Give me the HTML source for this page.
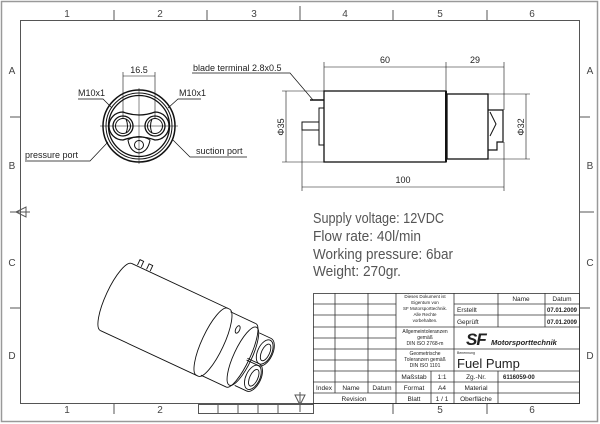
<!DOCTYPE html>
<html><head><meta charset="utf-8"><style>
html,body{margin:0;padding:0;background:#fff;}
svg{display:block;font-family:"Liberation Sans",sans-serif;}
</style></head><body>
<svg width="600" height="424" viewBox="0 0 600 424" xmlns="http://www.w3.org/2000/svg">
<rect x="0" y="0" width="600" height="424" fill="#fff"/>
<rect x="1.5" y="1.5" width="596" height="420" fill="none" stroke="#999" stroke-width="1.5"/>
<rect x="20.5" y="20.5" width="559" height="383" fill="none" stroke="#555" stroke-width="1"/>
<g stroke="#555" stroke-width="1">
<line x1="114" y1="10" x2="114" y2="20"/><line x1="207" y1="10" x2="207" y2="20"/><line x1="300" y1="6" x2="300" y2="20"/><line x1="393" y1="10" x2="393" y2="20"/><line x1="487" y1="10" x2="487" y2="20"/>
<line x1="114" y1="404" x2="114" y2="414"/><line x1="487" y1="404" x2="487" y2="414"/><line x1="393" y1="404" x2="393" y2="414"/>
<line x1="10" y1="117" x2="20" y2="117"/><line x1="10" y1="308" x2="20" y2="308"/><line x1="10" y1="212" x2="30" y2="212"/>
<line x1="580" y1="117" x2="590" y2="117"/><line x1="580" y1="308" x2="590" y2="308"/><line x1="580" y1="212" x2="594" y2="212"/>
<polygon points="16,212 26,207 26,217" fill="none"/>
<line x1="300" y1="392" x2="300" y2="412"/><polygon points="300,405 295,395 305,395" fill="none"/>
</g>
<g stroke="#555" fill="none" stroke-width="1">
<rect x="198.5" y="404.5" width="115" height="9"/>
<line x1="218" y1="404" x2="218" y2="413"/><line x1="238" y1="404" x2="238" y2="413"/><line x1="258" y1="404" x2="258" y2="413"/><line x1="278" y1="404" x2="278" y2="413"/>
</g>
<g font-size="10" fill="#444" text-anchor="middle">
<text x="67" y="17">1</text><text x="160" y="17">2</text><text x="254" y="17">3</text><text x="345" y="17">4</text><text x="440" y="17">5</text><text x="532" y="17">6</text>
<text x="67" y="413">1</text><text x="160" y="413">2</text><text x="440" y="413">5</text><text x="532" y="413">6</text>
<text x="12" y="74">A</text><text x="12" y="169">B</text><text x="12" y="266">C</text><text x="12" y="359">D</text>
<text x="590" y="74">A</text><text x="590" y="169">B</text><text x="590" y="266">C</text><text x="590" y="359">D</text>
</g>

<!-- front view -->
<g stroke="#111" fill="none" stroke-width="1">
<circle cx="139" cy="126" r="36" stroke-width="1.5"/>
<circle cx="139" cy="126" r="33"/>
<circle cx="139" cy="126" r="30.5" stroke-width="1.3"/>
<path d="M123,112 Q139,118 155,112 A14,14 0 1 1 155,140 Q139,134 123,140 A14,14 0 1 1 123,112 Z" stroke-width="1.3"/>
<circle cx="123" cy="126" r="10" stroke-width="1.3"/><circle cx="123" cy="126" r="7.5"/>
<circle cx="155" cy="126" r="10" stroke-width="1.3"/><circle cx="155" cy="126" r="7.5"/>
<path d="M126,119 Q129,126 126,133 M152,119 Q149,126 152,133"/>
<path d="M128,140 Q139,133 150,140 Q148,152 139,153 Q130,152 128,140Z"/>
<circle cx="139" cy="145" r="4.5"/>
<line x1="100" y1="126" x2="178" y2="126" stroke-width="0.5"/>
<line x1="139" y1="88" x2="139" y2="164" stroke-width="0.5"/>
<line x1="123" y1="72" x2="123" y2="118" stroke-width="0.6"/><line x1="155" y1="72" x2="155" y2="118" stroke-width="0.6"/>
<line x1="123" y1="76" x2="155" y2="76" stroke-width="0.6"/>
<polyline points="78,99 103,99 112,108" stroke-width="0.7"/>
<polyline points="201,99 178,99 168,108" stroke-width="0.7"/>
<polyline points="25,161 90,161 108,142" stroke-width="0.7"/>
<polyline points="247,157 190,157 173,140" stroke-width="0.7"/>
<polyline points="192,73 290,73 313,100" stroke-width="0.7"/>
</g>
<g font-size="9" fill="#222">
<text x="139" y="73" text-anchor="middle">16.5</text>
<text x="78" y="96">M10x1</text><text x="179" y="96">M10x1</text>
<text x="25" y="158">pressure port</text><text x="196" y="154">suction port</text>
<text x="193" y="71">blade terminal 2.8x0.5</text>
</g>

<!-- side view -->
<g stroke="#111" fill="none" stroke-width="1">
<rect x="324" y="91" width="122" height="71" stroke-width="1.3"/>
<rect x="447" y="94" width="41" height="65" stroke-width="1.3"/>
<line x1="446" y1="91" x2="446" y2="162" stroke-width="2"/>
<polyline points="488,110 503,110 503,142 497,142 497,150 488,150" stroke-width="1.2"/>
<polyline points="490,112 496,124 490,136"/>
<rect x="319" y="108" width="5" height="37"/>
<rect x="302" y="122" width="17" height="8"/>
<line x1="310" y1="100" x2="324" y2="100" stroke-width="1.5"/>
<g stroke-width="0.6">
<line x1="324" y1="62" x2="324" y2="91"/><line x1="446" y1="62" x2="446" y2="91"/><line x1="504" y1="62" x2="504" y2="110"/>
<line x1="324" y1="67" x2="446" y2="67"/><line x1="446" y1="67" x2="504" y2="67"/>
<line x1="302" y1="130" x2="302" y2="191"/><line x1="504" y1="142" x2="504" y2="191"/>
<line x1="302" y1="187" x2="504" y2="187"/>
<line x1="282" y1="91" x2="324" y2="91"/><line x1="282" y1="162" x2="324" y2="162"/>
<line x1="286" y1="91" x2="286" y2="162"/>
<line x1="488" y1="94" x2="530" y2="94"/><line x1="488" y1="159" x2="530" y2="159"/>
<line x1="526" y1="94" x2="526" y2="159"/>
</g>
</g>
<g font-size="9" fill="#222" text-anchor="middle">
<text x="385" y="63">60</text><text x="475" y="63">29</text><text x="403" y="183">100</text>
<text transform="translate(284,127) rotate(-90)">Φ35</text>
<text transform="translate(524,127) rotate(-90)">Φ32</text>
</g>

<!-- specs -->
<g font-size="14.5" fill="#555">
<text x="313" y="223" textLength="131" lengthAdjust="spacingAndGlyphs">Supply voltage: 12VDC</text>
<text x="313" y="241" textLength="108" lengthAdjust="spacingAndGlyphs">Flow rate: 40l/min</text>
<text x="313" y="259" textLength="140" lengthAdjust="spacingAndGlyphs">Working pressure: 6bar</text>
<text x="313" y="276" textLength="88" lengthAdjust="spacingAndGlyphs">Weight: 270gr.</text>
</g>

<!-- isometric -->
<g transform="translate(116,297) rotate(25)" stroke="#111" fill="none" stroke-width="0.9">
<path d="M0,-37 L108,-37 M0,37 L108,37"/>
<path d="M0,-37 A10,37 0 0 0 0,37"/>
<path d="M108,-37 A10,37 0 0 1 108,37" />
<path d="M106,-37 A10,37 0 0 0 106,37"/>
<path d="M110,-35 L138,-35 M110,35 L138,35"/>
<path d="M138,-35 A9,35 0 0 1 138,35"/>
<path d="M140,-32 A9,32 0 0 1 140,32"/>
<path d="M140,-32 A9,32 0 0 0 140,32"/>
<ellipse cx="124" cy="-22" rx="2" ry="4"/>
<path d="M6,-38 L6,-44 L10,-44 L10,-38 M16,-38 L16,-44 L20,-44 L20,-38"/>
<path d="M145,-28 L158,-28 A8,15 0 0 1 158,2 L145,2 M145,0 L158,0 A8,15 0 0 1 158,30 L145,30"/>
<ellipse cx="158" cy="-13" rx="7" ry="13"/><ellipse cx="159" cy="-13" rx="4" ry="9"/>
<ellipse cx="158" cy="15" rx="7" ry="13"/><ellipse cx="159" cy="15" rx="4" ry="9"/>
</g>

<!-- title block -->
<g stroke="#333" fill="none" stroke-width="0.8">
<rect x="313.5" y="293.5" width="266" height="110"/>
<line x1="335" y1="293" x2="335" y2="393"/><line x1="368" y1="293" x2="368" y2="393"/>
<line x1="396" y1="293" x2="396" y2="404"/><line x1="454" y1="293" x2="454" y2="404"/>
<line x1="431" y1="371" x2="431" y2="404"/>
<line x1="498" y1="293" x2="498" y2="327"/><line x1="545" y1="293" x2="545" y2="327"/>
<line x1="498" y1="371" x2="498" y2="404"/>
<path d="M313,304H396 M313,315H396 M313,327H396 M313,338H396 M313,349H396 M313,360H396 M313,371H396 M313,382H396 M313,393H396"/>
<path d="M454,304H580 M454,315H580 M396,327H580 M396,349H580 M396,371H580 M396,382H580 M396,393H580"/>
</g>
<g fill="#222" font-size="6.5" text-anchor="middle">
<text x="425" y="298" font-size="4.5">Dieses Dokument ist</text>
<text x="425" y="304" font-size="4.5">Eigentum von</text>
<text x="425" y="310" font-size="4.5">SF Motorsporttechnik.</text>
<text x="425" y="316" font-size="4.5">Alle Rechte</text>
<text x="425" y="322" font-size="4.5">vorbehalten.</text>
<text x="425" y="333" font-size="5">Allgemeintoleranzen</text>
<text x="425" y="339" font-size="5">gemäß</text>
<text x="425" y="345" font-size="5">DIN ISO 2768-m</text>
<text x="425" y="355" font-size="5">Geometrische</text>
<text x="425" y="361" font-size="5">Toleranzen gemäß</text>
<text x="425" y="367" font-size="5">DIN ISO 1101</text>
<text x="414" y="379">Maßstab</text><text x="442" y="379">1:1</text>
<text x="414" y="390">Format</text><text x="442" y="390">A4</text>
<text x="414" y="401">Blatt</text><text x="442" y="401">1 / 1</text>
<text x="476" y="379">Zg.-Nr.</text><text x="476" y="390">Material</text><text x="476" y="401">Oberfläche</text>
<text x="324" y="390">Index</text><text x="351" y="390">Name</text><text x="382" y="390">Datum</text>
<text x="354" y="401">Revision</text>
<text x="521" y="301">Name</text><text x="562" y="301">Datum</text>
<text x="562" y="312" font-weight="bold" font-size="6">07.01.2009</text>
<text x="562" y="324" font-weight="bold" font-size="6">07.01.2009</text>
</g>
<g fill="#222" font-size="6.5">
<text x="457" y="312">Erstellt</text><text x="457" y="324">Geprüft</text>
<text x="503" y="379" font-weight="bold" font-size="6">6116059-00</text>
<text x="457" y="354" font-size="3.5">Benennung</text>
<text x="457" y="368" font-size="13">Fuel Pump</text>
<text x="466" y="345" font-size="17" font-weight="bold" font-style="italic" letter-spacing="-1">SF</text>
<text x="491" y="345" font-size="7.5" font-weight="bold" font-style="italic">Motorsporttechnik</text>
</g>
</svg>
</body></html>
